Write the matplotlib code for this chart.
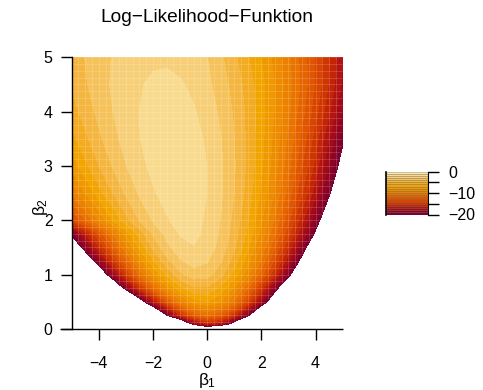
import numpy as np
import matplotlib
matplotlib.use("Agg")
import matplotlib.pyplot as plt
from matplotlib.collections import LineCollection
from matplotlib.patches import Rectangle

plt.rcParams['font.family'] = ['Liberation Sans', 'DejaVu Sans']
plt.rcParams['mathtext.fontset'] = 'custom'
plt.rcParams['mathtext.rm'] = 'Liberation Sans'
plt.rcParams['mathtext.it'] = 'Liberation Sans'

# grid of the surface
beta1 = [-5.0, -4.5, -4.0, -3.5, -3.0, -2.5, -2.0, -1.5, -1.0, -0.5, 0.0,
         0.5, 1.0, 1.5, 2.0, 2.5, 3.0, 3.5, 4.0, 4.5, 5.0]
beta2 = [0.0, 0.1, 0.25, 0.5, 0.75, 1.0, 1.25, 1.5, 1.75, 2.0, 2.5, 3.0, 3.5, 4.0, 4.5, 5.0]

# log-likelihood, one list per beta2 row
ll_b2_000 = [-200, -175, -150, -125, -105, -85, -65, -50, -32, -27, -25,
             -27, -32, -45, -60, -75, -95, -115, -140, -165, -190]
ll_b2_010 = [-176.0, -149.0, -124.0, -101.0, -81.0, -63.2, -48.0, -35.4, -25.65, -18.91, -15.64,
             -16.91, -21.81, -29.8, -40.65, -54.2, -70.5, -89.3, -110.6, -134.4, -160.5]
ll_b2_025 = [-94.3, -80.0, -66.8, -54.8, -44.2, -34.9, -27.0, -20.55, -15.6, -12.32, -11.0,
             -12.15, -15.15, -19.79, -25.96, -33.6, -42.7, -53.1, -65.0, -78.0, -92.5]
ll_b2_050 = [-62.0, -52.3, -43.5, -35.5, -28.4, -22.23, -17.0, -12.77, -9.61, -7.61, -7.04,
             -8.08, -10.32, -13.63, -17.97, -23.28, -29.55, -36.72, -44.81, -53.79, -63.63]
ll_b2_075 = [-43.3, -36.4, -30.06, -24.36, -19.34, -14.99, -11.35, -8.47, -6.38, -5.19, -5.17,
             -6.27, -8.26, -11.08, -14.68, -19.04, -24.12, -29.84, -36.41, -43.58, -51.42]
ll_b2_100 = [-33.8, -28.15, -23.03, -18.47, -14.44, -10.98, -8.10, -5.86, -4.28, -3.46, -3.65,
             -4.67, -6.38, -8.74, -11.71, -15.27, -19.41, -24.11, -29.39, -35.14, -41.46]
ll_b2_125 = [-27.7, -22.97, -18.67, -14.83, -11.46, -8.58, -6.22, -4.39, -3.16, -2.61, -2.93,
             -3.92, -5.49, -7.59, -10.22, -13.34, -16.94, -21.03, -25.57, -30.58, -36.02]
ll_b2_150 = [-23.05, -19.01, -15.33, -12.07, -9.23, -6.81, -4.84, -3.35, -2.39, -2.06, -2.47,
             -3.43, -4.89, -6.82, -9.19, -12.00, -15.20, -18.86, -22.89, -27.33, -32.16]
ll_b2_175 = [-19.63, -16.10, -12.92, -10.10, -7.65, -5.59, -3.93, -2.70, -1.94, -1.78, -2.24,
             -3.17, -4.51, -6.25, -8.38, -10.88, -13.74, -16.95, -20.52, -24.42, -28.66]
ll_b2_200 = [-13.50, -11.10, -8.94, -7.04, -5.39, -4.01, -2.92, -2.12, -1.67, -1.68, -2.17,
             -3.07, -4.34, -5.96, -7.92, -10.21, -12.79, -15.75, -18.98, -22.51, -26.34]
ll_b2_250 = [-9.80, -8.03, -6.45, -5.07, -3.88, -2.90, -2.14, -1.62, -1.36, -1.50, -2.02,
             -2.87, -4.02, -5.46, -7.19, -9.18, -11.44, -13.97, -16.73, -19.78, -23.06]
ll_b2_300 = [-7.70, -6.30, -5.06, -3.98, -3.06, -2.31, -1.75, -1.38, -1.25, -1.49, -2.03,
             -2.85, -3.93, -5.26, -6.84, -8.63, -10.69, -12.96, -15.45, -18.16, -21.09]
ll_b2_350 = [-6.40, -5.26, -4.24, -3.37, -2.63, -2.04, -1.61, -1.35, -1.33, -1.63, -2.18,
             -2.98, -4.01, -5.26, -6.72, -8.39, -10.25, -12.34, -14.59, -17.05, -19.70]
ll_b2_400 = [-5.50, -4.57, -3.75, -3.04, -2.46, -2.00, -1.68, -1.51, -1.58, -1.91, -2.45,
             -3.21, -4.16, -5.30, -6.62, -8.12, -9.81, -11.65, -13.68, -15.86, -18.18]
ll_b2_450 = [-4.90, -4.13, -3.47, -2.90, -2.43, -2.08, -1.85, -1.75, -1.89, -2.24, -2.78,
             -3.51, -4.40, -5.47, -6.69, -8.08, -9.62, -11.32, -13.16, -15.14, -17.29]
ll_b2_500 = [-4.60, -3.98, -3.43, -2.97, -2.61, -2.34, -2.18, -2.17, -2.38, -2.60, -3.00,
             -3.85, -4.80, -5.93, -7.10, -8.40, -9.86, -11.40, -13.15, -15.00, -17.00]

loglik = np.array([ll_b2_000, ll_b2_010, ll_b2_025, ll_b2_050, ll_b2_075, ll_b2_100,
                   ll_b2_125, ll_b2_150, ll_b2_175, ll_b2_200, ll_b2_250, ll_b2_300,
                   ll_b2_350, ll_b2_400, ll_b2_450, ll_b2_500])

levels = np.arange(-20, 1, 1)
# band colours from -20 (bottom) up to 0
band_colors = ['#7e002d', '#900423', '#a20a19', '#b3140f', '#c32406', '#cf3500',
               '#d84500', '#e05500', '#e56400', '#e97200', '#ec8000', '#ee8c00',
               '#f09800', '#f2a400', '#f3ac22', '#f4b640', '#f6c25c', '#f7cf78',
               '#f8db8e', '#fae5a8']

fig = plt.figure(figsize=(4.83, 3.90), dpi=100)
ax = fig.add_axes([0.1484, 0.1564, 0.5611, 0.6967])

cs = ax.contourf(beta1, beta2, loglik, levels=levels, colors=band_colors)
cs.set_edgecolor('face')
cs.set_linewidth(0.3)

# faint mesh seams inside the filled region
outline = ax.contourf(beta1, beta2, loglik, levels=[-20, 0], colors='none')
region = outline.get_paths()[0]
outline.remove()
seam_x = np.arange(-5, 5.001, 0.25)
seam_y = np.arange(0, 5.001, 0.125)
segs = [[(x, 0), (x, 5)] for x in seam_x] + [[(-5, y), (5, y)] for y in seam_y]
lc = LineCollection(segs, colors='white', linewidths=0.5, alpha=0.22)
ax.add_collection(lc)
lc.set_clip_path(region, ax.transData)

ax.set_xlim(-5, 5)
ax.set_ylim(0, 5)
for s in ['top', 'right', 'bottom']:
    ax.spines[s].set_visible(False)
ax.spines['left'].set_linewidth(1.0)
ax.plot([-5.42, 5.0], [0, 0], color='black', lw=1.0, clip_on=False,
        solid_capstyle='butt')
ax.set_xticks([-4, -2, 0, 2, 4])
ax.set_yticks([0, 1, 2, 3, 4, 5])
ax.tick_params(axis='both', direction='out', length=7.9, width=1.0,
               labelsize=11.5, color='black')
ax.tick_params(axis='x', pad=11.5)
ax.tick_params(axis='y', pad=5.8)

fig.text(207 / 483, 1 - 381 / 390, r'$\beta_1$', ha='center', va='center', fontsize=12.5)
fig.text(40 / 483, 1 - 207 / 390, r'$\beta_2$', ha='center', va='center',
         rotation=90, fontsize=12.5)
fig.text(206.5 / 483, 1 - 22 / 390, 'Log\u2212Likelihood\u2212Funktion',
         ha='center', va='baseline', fontsize=13.8)

# colour key
cax = fig.add_axes([386 / 483, (390 - 214.5) / 390, 42 / 483, 43 / 390])
for i, col in enumerate(band_colors):
    cax.add_patch(Rectangle((0, levels[i]), 1, 1, facecolor=col,
                            edgecolor=(0.25, 0.18, 0.08, 0.45), lw=0.4))
cax.set_xlim(0, 1)
cax.set_ylim(-20, 0)
cax.set_xticks([])
cax.yaxis.tick_right()
cax.set_yticks([0, -5, -10, -15, -20])
cax.set_yticklabels(['0', '', '\u221210', '', '\u221220'])
cax.tick_params(axis='y', direction='out', length=7.9, width=1.0,
                labelsize=11.5, pad=6.5)
cax.spines['top'].set_visible(False)
cax.spines['bottom'].set_visible(False)
cax.spines['left'].set_linewidth(1.2)
cax.spines['right'].set_linewidth(0.8)

fig.savefig('out.png', dpi=100)
